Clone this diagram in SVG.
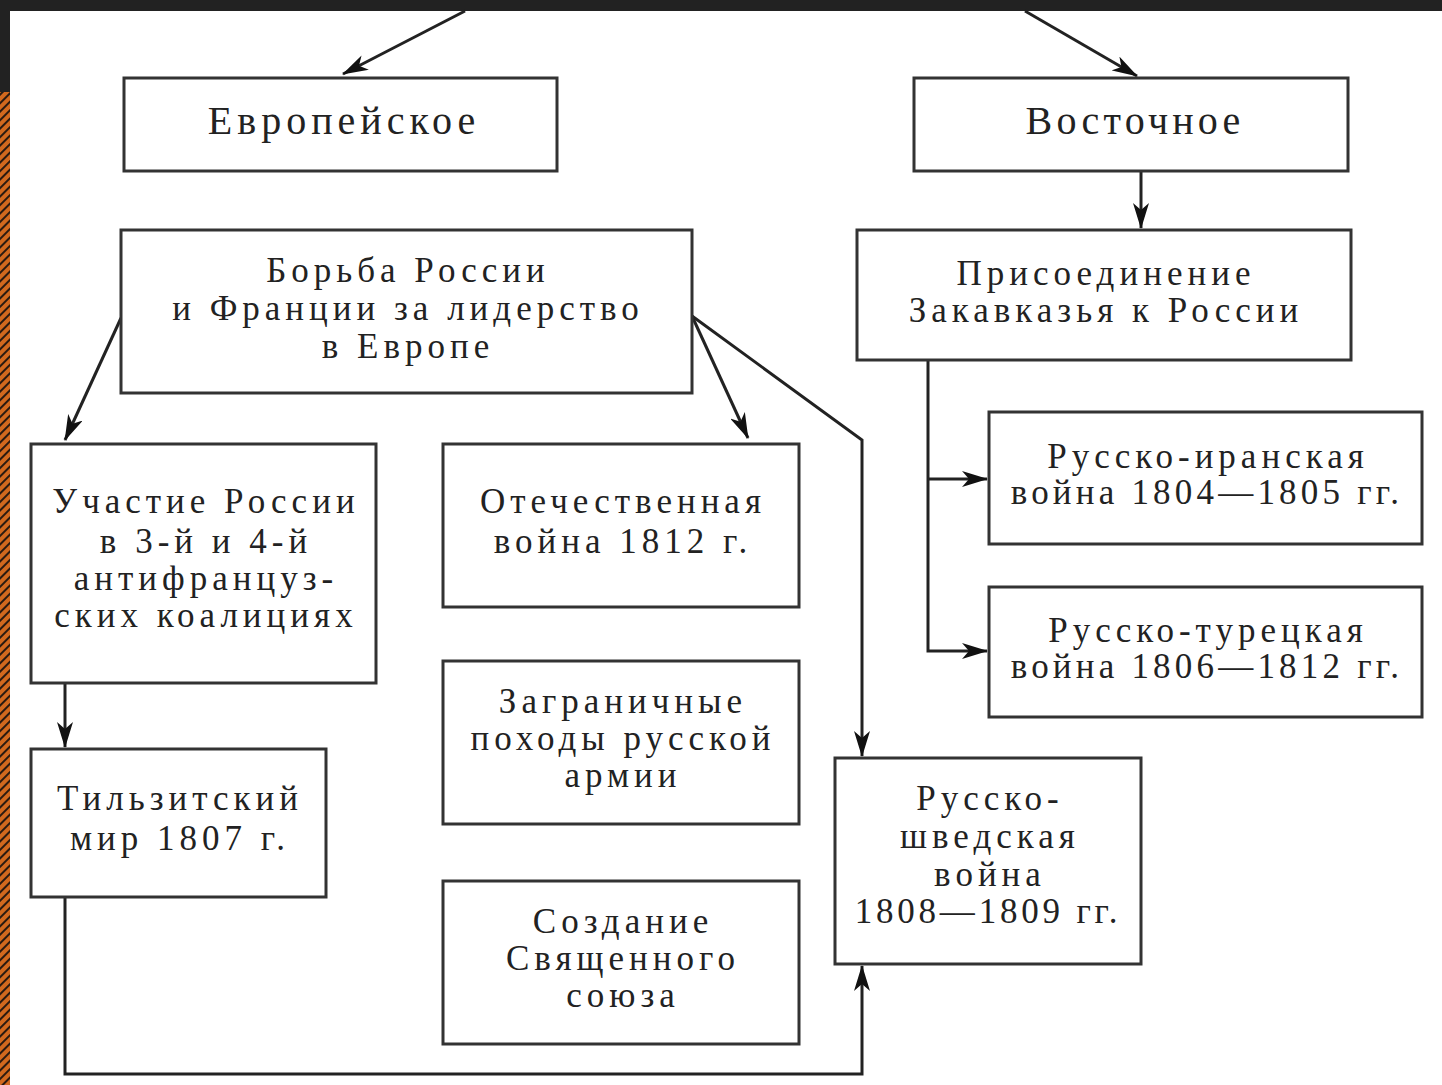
<svg xmlns="http://www.w3.org/2000/svg" width="1442" height="1085" viewBox="0 0 1442 1085">
<style>
.box{fill:#fff;stroke:#333;stroke-width:3}
.t{font-family:"Liberation Serif","Times New Roman",serif;font-size:35px;fill:#222;text-anchor:middle;letter-spacing:5px}
.big{font-size:40px}
.n{letter-spacing:4.2px}
.c{fill:none;stroke:#222;stroke-width:3}
</style>
<defs>
<marker id="ah" viewBox="0 0 26 16" refX="25" refY="8" markerWidth="26" markerHeight="16" markerUnits="userSpaceOnUse" orient="auto">
<path d="M0,0 L26,8 L0,16 L7,8 z" fill="#111"/>
</marker>
<pattern id="hatch" width="6" height="6" patternUnits="userSpaceOnUse" patternTransform="rotate(45)">
<rect width="6" height="6" fill="#d2691e"/>
<rect width="2" height="6" fill="#2a1a10"/>
</pattern>
</defs>
<rect x="0" y="0" width="1442" height="1085" fill="#fff"/>
<rect x="0" y="0" width="1442" height="11" fill="#222"/>
<rect x="0" y="0" width="10" height="92" fill="#222"/>
<rect x="0" y="92" width="10" height="993" fill="url(#hatch)"/>

<g id="connectors">
<line class="c" x1="465" y1="11" x2="343" y2="74" marker-end="url(#ah)"/>
<line class="c" x1="1025" y1="11" x2="1137" y2="76" marker-end="url(#ah)"/>
<line class="c" x1="1141" y1="171" x2="1141" y2="228" marker-end="url(#ah)"/>
<line class="c" x1="121" y1="318" x2="65" y2="440" marker-end="url(#ah)"/>
<line class="c" x1="692" y1="316" x2="748" y2="438" marker-end="url(#ah)"/>
<polyline class="c" points="692,316 862,440 862,756" marker-end="url(#ah)"/>
<polyline class="c" points="928,360 928,651 987,651" marker-end="url(#ah)"/>
<line class="c" x1="928" y1="479" x2="987" y2="479" marker-end="url(#ah)"/>
<line class="c" x1="65" y1="683" x2="65" y2="747" marker-end="url(#ah)"/>
<polyline class="c" points="65,897 65,1074 862,1074 862,966" marker-end="url(#ah)"/>
</g>

<g id="evropeyskoe"><rect class="box" x="124" y="78" width="433" height="93"/>
<text class="t big" x="344" y="134">Европейское</text></g>

<g id="vostochnoe"><rect class="box" x="914" y="78" width="434" height="93"/>
<text class="t big" x="1135" y="134" style="letter-spacing:4.2px">Восточное</text></g>

<g id="borba"><rect class="box" x="121" y="230" width="571" height="163"/>
<text class="t" x="408" y="282">Борьба России</text>
<text class="t" x="408" y="320">и Франции за лидерство</text>
<text class="t" x="408" y="358">в Европе</text></g>

<g id="prisoedinenie"><rect class="box" x="857" y="230" width="494" height="130"/>
<text class="t" x="1106" y="285">Присоединение</text>
<text class="t" x="1106" y="322">Закавказья к России</text></g>

<g id="uchastie"><rect class="box" x="31" y="444" width="345" height="239"/>
<text class="t" x="206" y="513">Участие России</text>
<text class="t" x="206" y="553">в 3-й и 4-й</text>
<text class="t" x="206" y="590">антифранцуз-</text>
<text class="t" x="206" y="627">ских коалициях</text></g>

<g id="otechestvennaya"><rect class="box" x="443" y="444" width="356" height="163"/>
<text class="t" x="623" y="513">Отечественная</text>
<text class="t" x="623" y="553">война 1812 г.</text></g>

<g id="zagranichnye"><rect class="box" x="443" y="661" width="356" height="163"/>
<text class="t" x="623" y="713">Заграничные</text>
<text class="t" x="623" y="750">походы русской</text>
<text class="t" x="623" y="787">армии</text></g>

<g id="sozdanie"><rect class="box" x="443" y="881" width="356" height="163"/>
<text class="t" x="623" y="933">Создание</text>
<text class="t" x="623" y="970">Священного</text>
<text class="t" x="623" y="1007">союза</text></g>

<g id="tilzit"><rect class="box" x="31" y="749" width="295" height="148"/>
<text class="t" x="180" y="810">Тильзитский</text>
<text class="t" x="180" y="850">мир 1807 г.</text></g>

<g id="shvedskaya"><rect class="box" x="835" y="758" width="306" height="206"/>
<text class="t" x="990" y="810">Русско-</text>
<text class="t" x="990" y="848">шведская</text>
<text class="t" x="990" y="886">война</text>
<text class="t" x="988" y="923" style="letter-spacing:3.8px">1808—1809 гг.</text></g>

<g id="iranskaya"><rect class="box" x="989" y="412" width="433" height="132"/>
<text class="t" x="1208" y="468">Русско-иранская</text>
<text class="t n" x="1207" y="504">война 1804—1805 гг.</text></g>

<g id="tureckaya"><rect class="box" x="989" y="587" width="433" height="130"/>
<text class="t" x="1208" y="642">Русско-турецкая</text>
<text class="t n" x="1207" y="678">война 1806—1812 гг.</text></g>
</svg>
